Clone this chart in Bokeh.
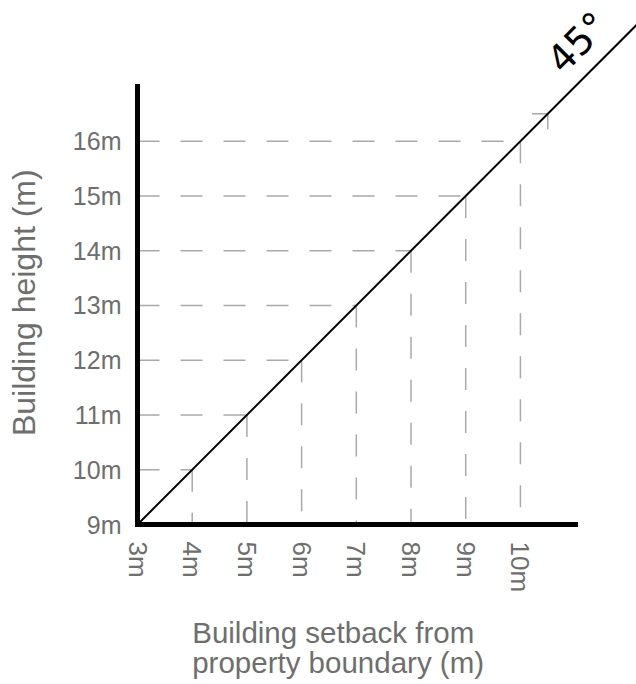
import math
from bokeh.plotting import figure
from bokeh.models import Range1d, FixedTicker, Label
from bokeh.embed import file_html
from bokeh.resources import INLINE

# ---- data ----
setback_m = [4, 5, 6, 7, 8, 9, 10]          # x values of guide points
height_m = [10, 11, 12, 13, 14, 15, 16]     # y values of guide points
x_ticks = [3, 4, 5, 6, 7, 8, 9, 10]
x_tick_labels = ["3m", "4m", "5m", "6m", "7m", "8m", "9m", "10m"]
y_ticks = [9, 10, 11, 12, 13, 14, 15, 16]
y_tick_labels = ["9m", "10m", "11m", "12m", "13m", "14m", "15m", "16m"]
line_x = [3, 13]        # 45 degree line
line_y = [9, 19]
partial_x = [10.5]      # faint partial guide at the top
partial_y = [16.5]

X0, Y0 = 3, 9
TEXT = "#6e6e6e"
FONT = "Liberation Sans"

# frame covers the whole window; axes are pinned at x=3 / y=9
p = figure(width=636, height=684, output_backend="svg", toolbar_location=None,
           x_range=Range1d(0.4954, 12.122), y_range=Range1d(6.0782, 18.569),
           min_border=0)
p.outline_line_color = None
p.grid.visible = False
p.background_fill_color = "white"
p.border_fill_color = "white"

xa, ya = p.xaxis[0], p.yaxis[0]
for ax in (xa, ya):
    ax.axis_line_width = 5
    ax.axis_line_color = "black"
    ax.axis_line_cap = "square"
    ax.major_tick_line_color = None
    ax.minor_tick_line_color = None
    ax.major_tick_in = 0
    ax.major_tick_out = 0
    ax.minor_tick_in = 0
    ax.minor_tick_out = 0
    ax.major_label_text_color = TEXT
    ax.major_label_text_font = FONT

xa.fixed_location = Y0
ya.fixed_location = X0
xa.bounds = (3, 11)
ya.bounds = (9, 17)
xa.ticker = FixedTicker(ticks=x_ticks)
ya.ticker = FixedTicker(ticks=y_ticks)
xa.major_label_overrides = {t: l for t, l in zip(x_ticks, x_tick_labels)}
ya.major_label_overrides = {t: l for t, l in zip(y_ticks, y_tick_labels)}
xa.major_label_orientation = -math.pi / 2
xa.major_label_text_font_size = "26px"
ya.major_label_text_font_size = "25px"
xa.major_label_standoff = 17
ya.major_label_standoff = 16

# dashed guides
GUIDE = "#a9a9a9"
p.segment(x0=[X0] * len(setback_m), y0=height_m, x1=setback_m, y1=height_m,
          line_color=GUIDE, line_width=1.5, line_dash="22 21")
p.segment(x0=setback_m, y0=height_m, x1=setback_m, y1=[Y0] * len(height_m),
          line_color=GUIDE, line_width=1.5, line_dash="22 21")
# faint partial guide
p.segment(x0=partial_x, y0=partial_y, x1=[v - 0.29 for v in partial_x], y1=partial_y,
          line_color=GUIDE, line_width=1.5)
p.segment(x0=partial_x, y0=partial_y, x1=partial_x, y1=[v - 0.28 for v in partial_y],
          line_color=GUIDE, line_width=1.5)

# 45 degree line
p.line(line_x, line_y, line_color="black", line_width=2)

# texts
p.add_layout(Label(x=11.05, y=17.8, text="45°", angle=math.pi / 4,
                   text_align="center", text_baseline="middle",
                   text_font="DejaVu Sans", text_font_size="38px",
                   text_color="black"))
p.add_layout(Label(x=4.0, y=7.03, text="Building setback from",
                   text_align="left", text_baseline="middle",
                   text_font=FONT, text_font_size="29.5px", text_color=TEXT))
p.add_layout(Label(x=4.0, y=6.48, text="property boundary (m)",
                   text_align="left", text_baseline="middle",
                   text_font=FONT, text_font_size="29.5px", text_color=TEXT))
p.add_layout(Label(x=0.934, y=13.05, text="Building height (m)", angle=math.pi / 2,
                   text_align="center", text_baseline="middle",
                   text_font=FONT, text_font_size="32px", text_color=TEXT))

open("out.html", "w").write(file_html(p, INLINE))
